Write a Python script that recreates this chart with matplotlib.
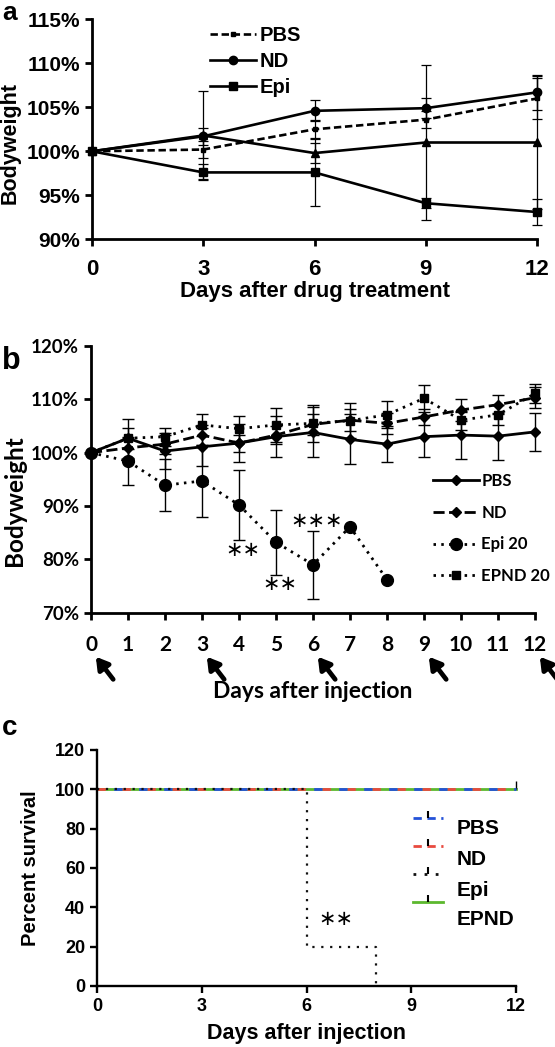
import matplotlib
matplotlib.use("Agg")
from matplotlib import pyplot as plt
from matplotlib.ticker import FuncFormatter

# ---------- data ----------
# panel a: bodyweight (%) after drug treatment
days_a = [0, 3, 6, 9, 12]
pbs_a = [100, 100.2, 102.5, 103.6, 106.0]
pbs_a_err = [0, 1.0, 1.0, 1.0, 2.3]
nd_a = [100, 101.7, 104.6, 104.9, 106.7]
nd_a_err = [0, 1.0, 1.2, 1.1, 2.0]
epi_a = [100, 97.6, 97.6, 94.1, 93.1]
epi_a_err = [0, 0.9, 3.8, 0.6, 1.5]
epnd_a = [100, 101.8, 99.8, 101.0, 101.0]
epnd_a_err = [0, 5.0, 1.1, 8.8, 7.6]
labels_a = ["PBS", "ND", "Epi"]

# panel b: bodyweight (%) after injection
days_b = list(range(13))
pbs_b = [100, 102.7, 100.3, 101.1, 101.8, 103.0, 103.8, 102.5, 101.6, 103.0, 103.3, 103.1, 103.9]
pbs_b_err = [0, 2.0, 3.4, 3.6, 3.5, 3.8, 4.7, 4.7, 3.4, 3.8, 4.4, 4.4, 3.6]
nd_b = [100, 100.9, 101.6, 103.3, 101.8, 103.3, 105.3, 106.1, 105.5, 106.7, 108.0, 109.0, 110.3]
nd_b_err = [0, 2.0, 1.8, 1.8, 1.6, 1.7, 2.0, 2.0, 2.0, 1.5, 2.0, 1.8, 2.0]
epi_b_days = [0, 1, 2, 3, 4, 5, 6, 7, 8]
epi_b = [100, 98.4, 93.9, 94.7, 90.2, 83.2, 79.0, 86.1, 76.2]
epi_b_err = [0, 4.4, 4.9, 6.7, 6.5, 6.1, 6.4, 0, 0]
epnd_b = [100, 102.7, 103.0, 105.2, 104.5, 105.2, 105.5, 106.0, 107.1, 110.2, 106.1, 107.1, 111.1]
epnd_b_err = [0, 3.7, 1.7, 2.0, 2.4, 3.2, 3.5, 3.3, 2.5, 2.5, 1.8, 1.9, 1.7]
labels_b = ["PBS", "ND", "Epi 20", "EPND 20"]
injection_days = [0, 3, 6, 9, 12]
stars_b = [("\u2217\u2217", 4.1, 81.8), ("\u2217\u2217", 5.1, 75.4), ("\u2217\u2217\u2217", 6.1, 87.1)]

# panel c: survival (%)
surv_days = [0, 12]
surv_full = [100, 100]
epi_surv_days = [0, 6, 8]
epi_surv = [100, 20, 0]
surv_labels = ["PBS", "ND", "Epi", "EPND"]
surv_colors = ["#2452d8", "#e84a3f", "#111111", "#5cb82e"]

fig = plt.figure(figsize=(5.55, 10.47), dpi=100)
W, H = 555.0, 1047.0

def box(l, t, r, b):
    return [l / W, 1 - b / H, (r - l) / W, (b - t) / H]

pct = FuncFormatter(lambda v, p: "%d%%" % v)

# ---------- panel a ----------
arial = "Liberation Sans"
ax = fig.add_axes(box(92, 19.3, 537, 239.3))
eb = dict(elinewidth=0.9, capsize=3.5, capthick=0.9, ecolor="k", clip_on=False)
l_pbs = ax.errorbar(days_a, pbs_a, yerr=pbs_a_err, color="k", lw=1.9, ls=(0, (2.8, 1.4)),
                    marker="s", ms=3.5, **eb)
l_nd = ax.errorbar(days_a, nd_a, yerr=nd_a_err, color="k", lw=1.9, marker="o", ms=6, **eb)
l_epi = ax.errorbar(days_a, epi_a, yerr=epi_a_err, color="k", lw=1.9, marker="s", ms=5.5,
                    **eb)
ax.errorbar(days_a, epnd_a, yerr=epnd_a_err, color="k", lw=1.9, marker="^", ms=6, **eb)
ax.set_xlim(0, 12)
ax.set_ylim(90, 115)
ax.set_xticks([0, 3, 6, 9, 12])
ax.set_yticks([90, 95, 100, 105, 110, 115])
ax.yaxis.set_major_formatter(pct)
for s in ["top", "right"]:
    ax.spines[s].set_visible(False)
for s in ["left", "bottom"]:
    ax.spines[s].set_linewidth(2.0)
ax.tick_params(axis="both", direction="out", length=5, width=2.0)
ax.tick_params(axis="x", pad=9)
for t in ax.get_xticklabels():
    t.set_fontproperties(dict(family=arial, weight="bold", size=16))
for t in ax.get_yticklabels():
    t.set_fontproperties(dict(family=arial, weight="bold", size=15))
ax.set_xlabel("Days after drug treatment", family=arial, weight="bold", size=16)
ax.set_ylabel("Bodyweight", family=arial, weight="bold", size=15.5)
ax.xaxis.set_label_coords(0.5, -0.19)
ax.yaxis.set_label_coords(-0.16, 0.44)
ax.legend([l_pbs[0], l_nd[0], l_epi[0]], labels_a, loc="upper left",
          bbox_to_anchor=(0.265, 0.97),
          frameon=False, borderpad=0, borderaxespad=0, handlelength=2.3,
          handletextpad=0.15, labelspacing=0.35, numpoints=1,
          prop=dict(family=arial, weight="bold", size=14.5))
fig.text(2 / W, 1 - 1 / H, "a", family=arial, weight="bold", size=19, va="top")

# ---------- panel b ----------
cal = "Lato"
ax = fig.add_axes(box(91, 346, 535, 612.7))
eb = dict(elinewidth=1.0, capsize=4, capthick=1.0, ecolor="k", clip_on=False)
l1 = ax.errorbar(days_b, pbs_b, yerr=pbs_b_err, color="k", lw=2.0, marker="D", ms=5.5, **eb)
l2 = ax.errorbar(days_b, nd_b, yerr=nd_b_err, color="k", lw=2.0, ls=(0, (4, 1.6)),
                 marker="D", ms=5.5, **eb)
l3 = ax.errorbar(epi_b_days, epi_b, yerr=epi_b_err, color="k", lw=2.0, ls=(0, (0.9, 1.9)),
                 marker="o", ms=8.5, **eb)
l4 = ax.errorbar(days_b, epnd_b, yerr=epnd_b_err, color="k", lw=2.0, ls=(0, (0.9, 1.9)),
                 marker="s", ms=6, **eb)
ax.set_xlim(0, 12)
ax.set_ylim(70, 120)
ax.set_xticks(days_b)
ax.set_yticks([70, 80, 90, 100, 110, 120])
ax.yaxis.set_major_formatter(pct)
for s in ["top", "right"]:
    ax.spines[s].set_visible(False)
for s in ["left", "bottom"]:
    ax.spines[s].set_linewidth(2.0)
ax.tick_params(axis="both", direction="out", length=5, width=2.0)
ax.tick_params(axis="x", pad=11)
for t in ax.get_xticklabels():
    t.set_fontproperties(dict(family=cal, weight="bold", size=15))
for t in ax.get_yticklabels():
    t.set_fontproperties(dict(family=cal, weight="bold", size=13.5))
ax.set_xlabel("Days after injection", family=cal, weight="bold", size=16.5)
ax.set_ylabel("Bodyweight", family=cal, weight="bold", size=17.5)
ax.xaxis.set_label_coords(0.5, -0.255)
ax.yaxis.set_label_coords(-0.147, 0.42)
for d in injection_days:
    ax.annotate("", xy=(d + 0.13, -0.165), xycoords=("data", "axes fraction"),
                xytext=(d + 0.6, -0.25), textcoords=("data", "axes fraction"),
                arrowprops=dict(arrowstyle="-|>,head_length=0.7,head_width=0.42",
                                lw=3.4, color="k", shrinkA=0, shrinkB=0),
                annotation_clip=False)
for txt, x, y in stars_b:
    ax.text(x, y, txt, ha="center", va="center", size=15, family="DejaVu Sans")
ax.legend([l1[0], l2[0], l3[0], l4[0]], labels_b, loc="upper left",
          bbox_to_anchor=(0.77, 0.525),
          frameon=False, borderpad=0, borderaxespad=0, handlelength=2.75,
          handletextpad=0.15, labelspacing=0.95, numpoints=1,
          prop=dict(family=cal, weight="bold", size=12))
fig.text(2 / W, 1 - 361 / H, "b", family=arial, weight="bold", size=22, va="center")

# ---------- panel c ----------
ax = fig.add_axes(box(97, 750, 516, 986))
ax.plot(surv_days, surv_full, color=surv_colors[3], lw=2.0, marker=2, ms=6,
        markevery=[1], mec="k", clip_on=False)
ax.plot(surv_days, surv_full, color=surv_colors[1], lw=2.0, ls=(0, (3, 6)), clip_on=False)
ax.plot(surv_days, surv_full, color=surv_colors[0], lw=2.0, ls=(3, (3, 6)), clip_on=False)
ax.step(epi_surv_days, epi_surv, where="post", color=surv_colors[2], lw=1.6,
        ls=(0, (1, 3)), clip_on=False)
ax.set_xlim(0, 12)
ax.set_ylim(0, 120)
ax.set_xticks([0, 3, 6, 9, 12])
ax.set_yticks([0, 20, 40, 60, 80, 100, 120])
for s in ["top", "right"]:
    ax.spines[s].set_visible(False)
for s in ["left", "bottom"]:
    ax.spines[s].set_linewidth(1.7)
ax.tick_params(axis="both", direction="out", length=5, width=1.7)
for t in ax.get_xticklabels() + ax.get_yticklabels():
    t.set_fontproperties(dict(family=arial, weight="bold", size=13))
ax.set_xlabel("Days after injection", family=arial, weight="bold", size=15.5)
ax.set_ylabel("Percent survival", family=arial, weight="bold", size=14.5)
ax.xaxis.set_label_coords(0.5, -0.155)
ax.yaxis.set_label_coords(-0.135, 0.5)
ax.text(6.85, 34, "\u2217\u2217", ha="center", va="center", size=15, family="DejaVu Sans")
# legend samples drawn a little above their labels, as in the export
line_y = [0.712, 0.593, 0.475, 0.356]
text_y = [0.669, 0.538, 0.403, 0.280]
styles = [(0, (3, 2)), (0, (3, 2)), (0, (1, 3)), "-"]
for lab, c, ls, ly, ty in zip(surv_labels, surv_colors, styles, line_y, text_y):
    ax.plot([0.754, 0.826], [ly, ly], transform=ax.transAxes, color=c, lw=2.0, ls=ls,
            clip_on=False)
    ax.plot([0.79], [ly], transform=ax.transAxes, color="k", marker=2, ms=5, mew=1.5,
            clip_on=False)
    ax.text(0.859, ty, lab, transform=ax.transAxes, va="center", ha="left",
            family=arial, weight="bold", size=15)
fig.text(2 / W, 1 - 728 / H, "c", family=arial, weight="bold", size=20, va="center")

fig.savefig("out.png", dpi=100)
